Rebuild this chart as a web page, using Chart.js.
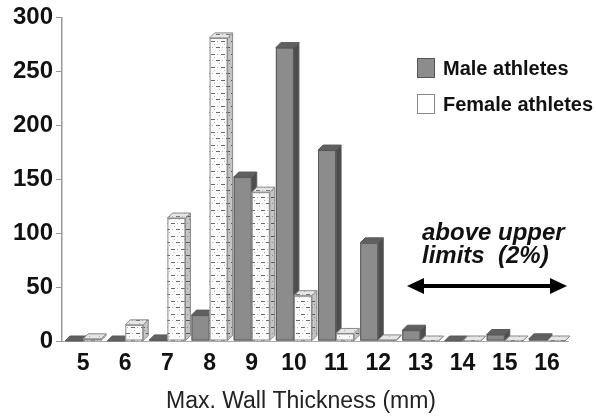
<!DOCTYPE html>
<html>
<head>
<meta charset="utf-8">
<script src="https://cdn.jsdelivr.net/npm/chart.js@4/dist/chart.umd.min.js"></script>
<style>
html,body{margin:0;padding:0;background:#fff}
#wrap{width:596px;height:416px;position:relative}
</style>
</head>
<body>
<div id="wrap"><canvas id="wallChart"></canvas></div>
<script>
// wall thickness in mm, number of athletes per class
const thickness = ["5","6","7","8","9","10","11","12","13","14","15","16"]
const maleAthletes = [0,0,1,24,152,272,177,91,10,0,6,2]
const femaleAthletes = [2,15,114,281,138,42,7,1,0,0,0,0]
const yTicks = [0,50,100,150,200,250,300]

const FONT = "Arial, 'Liberation Sans', sans-serif"
const DEPTH = 5

const ctx0 = document.getElementById("wallChart").getContext("2d")

// dotted / dashed fill used for the female bars
function pat(bg, dash, dot){
  const c = document.createElement("canvas")
  c.width = 10; c.height = 13
  const g = c.getContext("2d")
  g.fillStyle = bg; g.fillRect(0,0,10,13)
  g.fillStyle = dash
  g.fillRect(1,2,4,1); g.fillRect(6,8,4,1)
  g.fillStyle = dot
  g.fillRect(7,2,1,1); g.fillRect(2,8,1,1); g.fillRect(4,5,1,1); g.fillRect(9,11,1,1)
  return ctx0.createPattern(c,"repeat")
}

const look = {
  male: {front:"#8c8c8c", side:"#4d4d4d", top:"#606060", edge:"#5a5a5a"},
  female: {front:pat("#fbfbfb","#6a6a6a","#b0b0b0"), side:pat("#c4c4c4","#555","#888"),
           top:pat("#e6e6e6","#777","#aaa"), edge:"#8a8a8a"}
}

function drawBox(ctx, bar, st){
  const p = bar.getProps(["x","y","base","width"], true)
  const l = p.x - p.width/2, r = p.x + p.width/2
  const y = Math.min(p.y, p.base), b = p.base
  ctx.lineWidth = 1
  ctx.strokeStyle = st.edge
  // front
  ctx.fillStyle = st.front
  ctx.fillRect(l, y, p.width, b - y)
  if (b - y > 0) ctx.strokeRect(l+0.5, y+0.5, p.width-1, b-y-1)
  // side
  ctx.beginPath()
  ctx.moveTo(r, b)
  ctx.lineTo(r+DEPTH, b-DEPTH)
  ctx.lineTo(r+DEPTH, y-DEPTH)
  ctx.lineTo(r, y)
  ctx.closePath()
  ctx.fillStyle = st.side
  ctx.fill()
  ctx.stroke()
  // top
  ctx.beginPath()
  ctx.moveTo(l, y)
  ctx.lineTo(l+DEPTH, y-DEPTH)
  ctx.lineTo(r+DEPTH, y-DEPTH)
  ctx.lineTo(r, y)
  ctx.closePath()
  ctx.fillStyle = st.top
  ctx.fill()
  ctx.stroke()
}

const bars3d = {
  id:"bars3d",
  afterDatasetsDraw(chart){
    const ctx = chart.ctx
    const male = chart.getDatasetMeta(0).data
    const female = chart.getDatasetMeta(1).data
    ctx.save()
    for (let i=0;i<male.length;i++){
      drawBox(ctx, male[i], look.male)
      drawBox(ctx, female[i], look.female)
    }
    ctx.restore()
  }
}

const extras = {
  id:"extras",
  afterDraw(chart){
    const ctx = chart.ctx
    ctx.save()
    // legend
    const ds = chart.data.datasets
    const rows = [[ds[0].label, look.male.front, "#555", 58], [ds[1].label, "#ffffff", "#888", 94]]
    ctx.font = "bold 20px " + FONT
    ctx.textBaseline = "middle"
    ctx.textAlign = "left"
    rows.forEach(rw => {
      ctx.fillStyle = rw[1]
      ctx.fillRect(417, rw[3], 18, 20)
      ctx.strokeStyle = rw[2]
      ctx.lineWidth = 1
      ctx.strokeRect(417.5, rw[3]+0.5, 17, 19)
      ctx.fillStyle = "#111"
      ctx.fillText(rw[0], 443, rw[3]+11)
    })
    // note + arrow
    ctx.font = "italic bold 24px " + FONT
    ctx.textBaseline = "alphabetic"
    ctx.fillText("above upper", 422, 240)
    ctx.fillText("limits  (2%)", 422, 263)
    ctx.strokeStyle = "#000"
    ctx.fillStyle = "#000"
    ctx.lineWidth = 4
    ctx.beginPath()
    ctx.moveTo(420, 286)
    ctx.lineTo(554, 286)
    ctx.stroke()
    ctx.beginPath()
    ctx.moveTo(407, 286); ctx.lineTo(424, 278); ctx.lineTo(424, 294); ctx.closePath()
    ctx.fill()
    ctx.beginPath()
    ctx.moveTo(567, 286); ctx.lineTo(550, 278); ctx.lineTo(550, 294); ctx.closePath()
    ctx.fill()
    // axis title
    ctx.font = "23px " + FONT
    ctx.fillStyle = "#222"
    ctx.textAlign = "center"
    ctx.textBaseline = "middle"
    ctx.fillText("Max. Wall Thickness (mm)", 301, 402)
    ctx.restore()
  }
}

new Chart(ctx0,{
  type:"bar",
  data:{
    labels:thickness,
    datasets:[
      {label:"Male athletes", data:maleAthletes, backgroundColor:look.male.front, borderWidth:0},
      {label:"Female athletes", data:femaleAthletes, backgroundColor:look.female.front, borderWidth:0}
    ]
  },
  options:{
    responsive:true,
    maintainAspectRatio:false,
    animation:false,
    layout:{padding:{top:17, right:28, left:0, bottom:0}},
    datasets:{bar:{categoryPercentage:0.855, barPercentage:1}},
    plugins:{legend:{display:false}, tooltip:{enabled:false}},
    scales:{
      x:{
        grid:{display:false, drawTicks:false},
        border:{display:true, color:"#aaa", width:1},
        ticks:{font:{family:FONT, size:23, weight:"bold"}, color:"#111", padding:9},
        afterFit(s){ s.height = 75 }
      },
      y:{
        min:0, max:300,
        afterBuildTicks(s){ s.ticks = yTicks.map(v => ({value:v})) },
        grid:{drawOnChartArea:false, drawTicks:true, tickLength:6, color:"#999"},
        border:{display:true, color:"#999", width:1.5},
        ticks:{font:{family:FONT, size:24, weight:"bold"}, color:"#111", padding:3},
        afterFit(s){ s.width = 62 }
      }
    }
  },
  plugins:[bars3d, extras]
})
</script>
</body>
</html>
